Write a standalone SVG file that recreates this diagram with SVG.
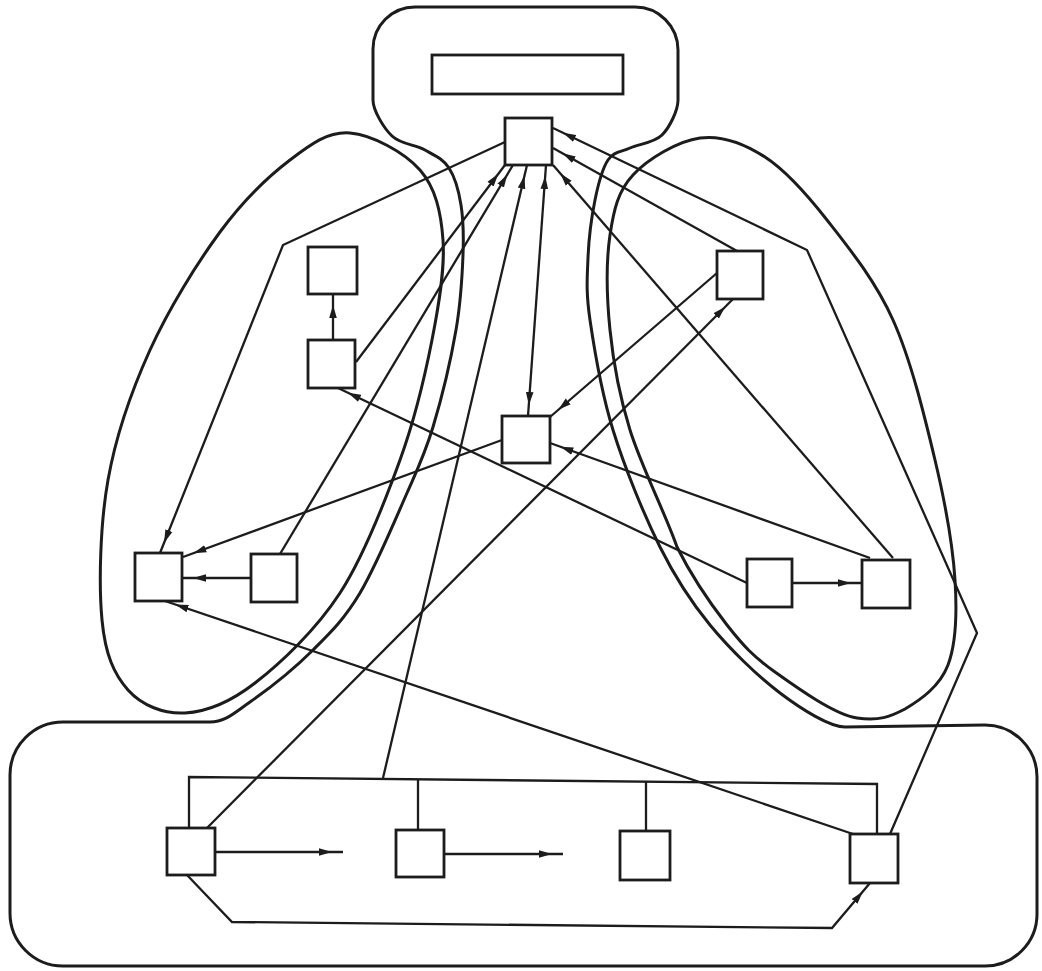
<svg xmlns="http://www.w3.org/2000/svg" width="1042" height="971" viewBox="0 0 1042 971">
<style>
.region{fill:none;stroke:#1c1c1c;stroke-width:3;stroke-linejoin:round}
.node rect{fill:#fff;stroke:#1c1c1c;stroke-width:2.8}
.edge{fill:none;stroke:#1c1c1c;stroke-width:2.3}
.arr{marker-end:url(#ah)}
.bi{marker-start:url(#ah);marker-end:url(#ah)}
</style>
<defs>
<marker id="ah" viewBox="0 -5 40 10" refX="24" refY="0" markerWidth="40" markerHeight="10" markerUnits="userSpaceOnUse" orient="auto-start-reverse">
<path d="M0,-3.8 L13,0 L0,3.8 Z" fill="#1c1c1c"/>
</marker>
</defs>
<rect x="0" y="0" width="1042" height="971" fill="#fff"/>
<g id="regions">
<path id="outer-region" class="region" d="M210,722 L63,722 A53,53 0 0 0 10,775 L10,913 A53,53 0 0 0 63,966 L985,966 A52,52 0 0 0 1037,914 L1037,777 A52,52 0 0 0 985,725 L845,727 C830,727 802.5,710 780,693 C757.5,676 730,649.3 710,625 C690,600.7 676.2,579.5 660,547 C643.8,514.5 624.7,467.8 613,430 C601.3,392.2 594.2,348.7 590,320 C585.8,291.3 587.2,278 588,258 C588.8,238 591.7,216.3 595,200 C598.3,183.7 602.2,168.7 608,160 C613.8,151.3 621,152.2 630,148 C639,143.8 654,143 662,135 C670,127 678,110 678,100 L678,50 A43,43 0 0 0 635,7 L415,7 A42,42 0 0 0 373,49 L373,100 C373,110 383.3,127.7 392,136 C400.7,144.3 415.5,144.7 425,150 C434.5,155.3 443,158.8 449,168 C455,177.2 458.7,190.5 461,205 C463.3,219.5 463.8,234.2 463,255 C462.2,275.8 461,301.3 456,330 C451,358.7 441.2,399.8 433,427 C424.8,454.2 419.2,465.3 407,493 C394.8,520.7 375.7,566.8 360,593 C344.3,619.2 331.3,631.8 313,650 C294.7,668.2 267.2,690 250,702 C232.8,714 225,722 210,722 Z"/>
<path id="left-region" class="region" d="M350,133 C371.7,134.7 404.5,152.2 420,170 C435.5,187.8 441,211.7 443,240 C445,268.3 439.2,303.3 432,340 C424.8,376.7 415.3,417.8 400,460 C384.7,502.2 364.2,555.8 340,593 C315.8,630.2 280.8,663 255,683 C229.2,703 206.2,711.8 185,713 C163.8,714.2 141.8,705.5 128,690 C114.2,674.5 105.3,655 102,620 C98.7,585 100,525 108,480 C116,435 131.3,391.3 150,350 C168.7,308.7 196.7,263.7 220,232 C243.3,200.3 268.3,176.5 290,160 C311.7,143.5 328.3,131.3 350,133 Z"/>
<path id="right-region" class="region" d="M700,138 C722,135 743.8,143.3 765,157 C786.2,170.7 805.7,192.8 827,220 C848.3,247.2 875,280 893,320 C911,360 924.7,416.7 935,460 C945.3,503.3 952.8,545.8 955,580 C957.2,614.2 956.3,643.3 948,665 C939.7,686.7 920.2,700 905,709 C889.8,717 879,721 857,718 C835,715 796.7,687.5 775,672 C753.3,656.5 743.3,645.8 727,625 C710.8,604.2 693.2,579.5 677,547 C665.8,514.5 641.2,466.2 630,430 C618.8,393.8 613.3,362.5 610,330 C606.7,297.5 606.2,260.8 610,235 C613.8,209.2 618,191.2 633,175 C648,158.8 678,141 700,138 Z"/>
</g>
<g id="connectors">
<path class="edge arr" d="M505,142 L283,245 L160,553"/>
<path class="edge arr" d="M356,362 L505,165"/>
<path class="edge arr" d="M280,554 L513,165"/>
<path class="edge arr" d="M383,778 L527,165"/>
<path class="edge bi" d="M546,165 L528,416"/>
<path class="edge arr" d="M893,558 L553,165"/>
<path class="edge arr" d="M737,251 L553,148"/>
<path class="edge arr" d="M890,834 L977,633 L807,250 L553,128"/>
<path class="edge arr" d="M717,273 L550,417"/>
<path class="edge arr" d="M207,828 L733,299"/>
<path class="edge arr" d="M502,440 L183,557"/>
<path class="edge arr" d="M870,558 L550,443"/>
<path class="edge arr" d="M747,583 L338,388"/>
<path class="edge arr" d="M333,340 L333,294"/>
<path class="edge arr" d="M251,578 L182,578"/>
<path class="edge arr" d="M792,583 L862,583"/>
<path class="edge arr" d="M853,834 L165,601"/>
<path class="edge" d="M189,828 L189,777 L877,784 L877,834"/>
<path class="edge" d="M418,779 L418,830"/>
<path class="edge" d="M646,781 L646,831"/>
<path class="edge arr" d="M215,852 L343,852"/>
<path class="edge arr" d="M444,854 L563,854"/>
<path class="edge arr" d="M187,875 L232,922 L832,928 L870,883"/>
</g>
<g id="n-bar" class="node"><rect x="432" y="55" width="191" height="39"/></g>
<g id="n-T" class="node"><rect x="505" y="118" width="47" height="47"/></g>
<g id="n-L1" class="node"><rect x="308" y="247" width="49" height="47"/></g>
<g id="n-L2" class="node"><rect x="308" y="340" width="47" height="48"/></g>
<g id="n-R1" class="node"><rect x="717" y="251" width="46" height="48"/></g>
<g id="n-C" class="node"><rect x="502" y="416" width="48" height="47"/></g>
<g id="n-L3" class="node"><rect x="135" y="553" width="47" height="48"/></g>
<g id="n-L4" class="node"><rect x="251" y="554" width="46" height="48"/></g>
<g id="n-R2" class="node"><rect x="747" y="559" width="45" height="48"/></g>
<g id="n-R3" class="node"><rect x="862" y="560" width="48" height="48"/></g>
<g id="n-B1" class="node"><rect x="167" y="828" width="48" height="47"/></g>
<g id="n-B2" class="node"><rect x="396" y="830" width="48" height="47"/></g>
<g id="n-B3" class="node"><rect x="620" y="831" width="50" height="49"/></g>
<g id="n-B4" class="node"><rect x="850" y="834" width="48" height="49"/></g>
</svg>
